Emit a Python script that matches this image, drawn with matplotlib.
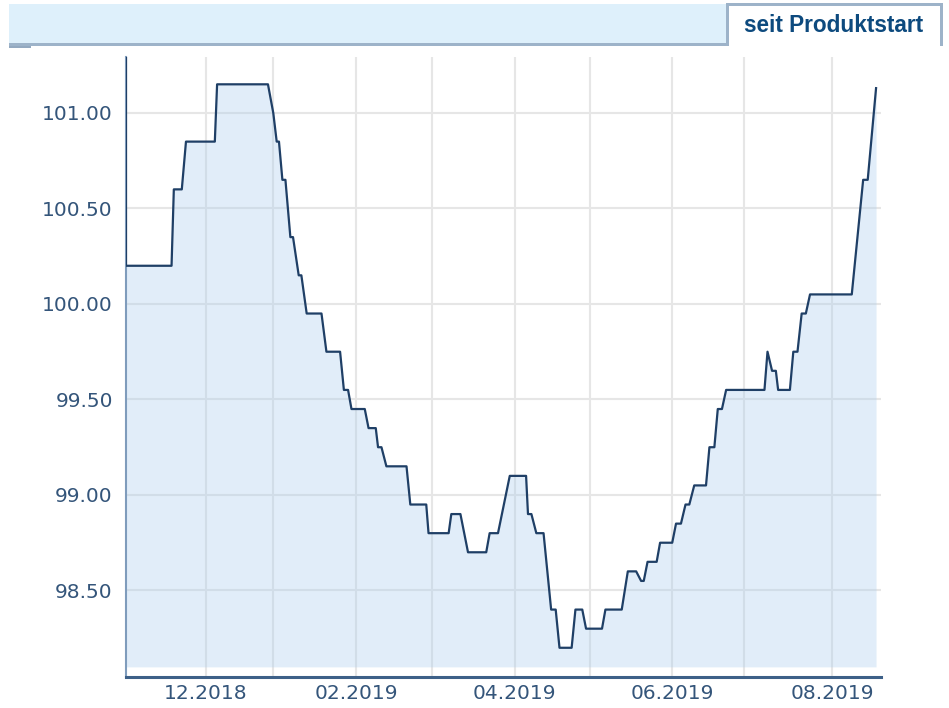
import matplotlib
matplotlib.use('Agg')
import matplotlib.pyplot as plt
from matplotlib.patches import Rectangle

# trading-day index since product start, and price at that point
days = [0, 0, 12.0, 12.6, 14.7, 15.8, 23.4, 24.0, 37.4, 38.8, 39.7, 40.3, 41.2,
        42.0, 43.3, 44.0, 45.5, 46.2, 47.6, 51.5, 52.8, 56.4, 57.4, 58.5, 59.4,
        62.9, 63.9, 65.8, 66.4, 67.3, 68.6, 73.9, 74.9, 79.1, 79.7, 85.0, 85.7,
        88.1, 90.1, 94.9, 95.8, 98.0, 101.1, 105.4, 105.9, 106.8, 108.1, 110.0,
        112.0, 113.2, 114.2, 117.4, 118.4, 120.2, 121.2, 125.4, 126.3, 130.6,
        132.2, 134.4, 135.7, 136.4, 137.4, 139.8, 140.7, 143.9, 144.9, 146.2,
        147.4, 148.4, 149.7, 152.8, 153.7, 155.0, 155.9, 157.0, 158.1, 168.2,
        169.0, 170.2, 171.2, 171.8, 174.9, 175.8, 176.9, 178.0, 179.1, 180.2,
        191.2, 194.2, 195.4, 197.6]
prices = [101.40, 100.20, 100.20, 100.60, 100.60, 100.85, 100.85, 101.15, 101.15,
          101.00, 100.85, 100.85, 100.65, 100.65, 100.35, 100.35, 100.15, 100.15,
          99.95, 99.95, 99.75, 99.75, 99.55, 99.55, 99.45, 99.45, 99.35, 99.35,
          99.25, 99.25, 99.15, 99.15, 98.95, 98.95, 98.80, 98.80, 98.90, 98.90,
          98.70, 98.70, 98.80, 98.80, 99.10, 99.10, 98.90, 98.90, 98.80, 98.80,
          98.40, 98.40, 98.20, 98.20, 98.40, 98.40, 98.30, 98.30, 98.40, 98.40,
          98.60, 98.60, 98.55, 98.55, 98.65, 98.65, 98.75, 98.75, 98.85, 98.85,
          98.95, 98.95, 99.05, 99.05, 99.25, 99.25, 99.45, 99.45, 99.55, 99.55,
          99.75, 99.65, 99.65, 99.55, 99.55, 99.75, 99.75, 99.95, 99.95, 100.05,
          100.05, 100.65, 100.65, 101.13]

# month starts (trading-day index) for the vertical grid, labels every 2nd month
month_pos = [21.1, 38.6, 60.7, 80.7, 102.4, 122.3, 143.9, 162.9, 186.1]
month_labels = ['12.2018', '', '02.2019', '', '04.2019', '', '06.2019', '', '08.2019']
y_ticks = [98.5, 99.0, 99.5, 100.0, 100.5, 101.0]

W, H = 949, 708
fig = plt.figure(figsize=(W / 100, H / 100), dpi=100)


def px_rect(x0, y0, x1, y1, **kw):
    # rectangle given in pixel coords (top-left origin)
    fig.patches.append(Rectangle((x0 / W, 1 - y1 / H), (x1 - x0) / W, (y1 - y0) / H,
                                 transform=fig.transFigure, **kw))


# header bar with the tab
border = '#9db3c9'
px_rect(9, 4, 727, 44, facecolor='#def0fb', edgecolor='none')
px_rect(9, 43, 727, 46, facecolor=border, edgecolor='none')
px_rect(9, 46, 31, 47.5, facecolor='#93a9c0', edgecolor='none')
px_rect(726, 3, 729, 46, facecolor=border, edgecolor='none')
px_rect(726, 3, 943, 6, facecolor=border, edgecolor='none')
px_rect(940, 3, 943, 46, facecolor=border, edgecolor='none')
fig.text(834 / W, 1 - 26 / H, 'seit Produktstart', ha='center', va='center',
         fontsize=16.3, fontweight='bold', color='#0d4a7e', family='Liberation Sans')

ax = fig.add_axes([126 / W, 1 - 677 / H, (881 - 126) / W, (677 - 57) / H])
ax.set_xlim(0, 198.9)
ax.set_ylim(98.047, 101.293)

for p in month_pos:
    ax.axvline(p, color='#e6e6e6', lw=1.5, zorder=1)
for v in y_ticks:
    ax.axhline(v, color='#e6e6e6', lw=1.5, zorder=1)

ax.fill_between(days, prices, 98.10, color='#aacdee', alpha=0.35, lw=0, zorder=2)
ax.plot(days, prices, color='#1f3f66', lw=1.6, zorder=3)

ax.set_yticks(y_ticks)
ax.set_yticklabels([f'{v:.2f}' for v in y_ticks])
ax.set_xticks(month_pos)
ax.set_xticklabels(month_labels)
ax.tick_params(axis='both', length=0, labelsize=14.5, labelcolor='#34557a')
ax.tick_params(axis='y', pad=9.5)
ax.tick_params(axis='x', pad=5)

for s in ['top', 'right']:
    ax.spines[s].set_visible(False)
ax.spines['left'].set_color('#7f9cbc')
ax.spines['left'].set_linewidth(1.5)
ax.spines['bottom'].set_color('#3d6088')
ax.spines['bottom'].set_linewidth(2.2)

fig.savefig('out.png', dpi=100)
